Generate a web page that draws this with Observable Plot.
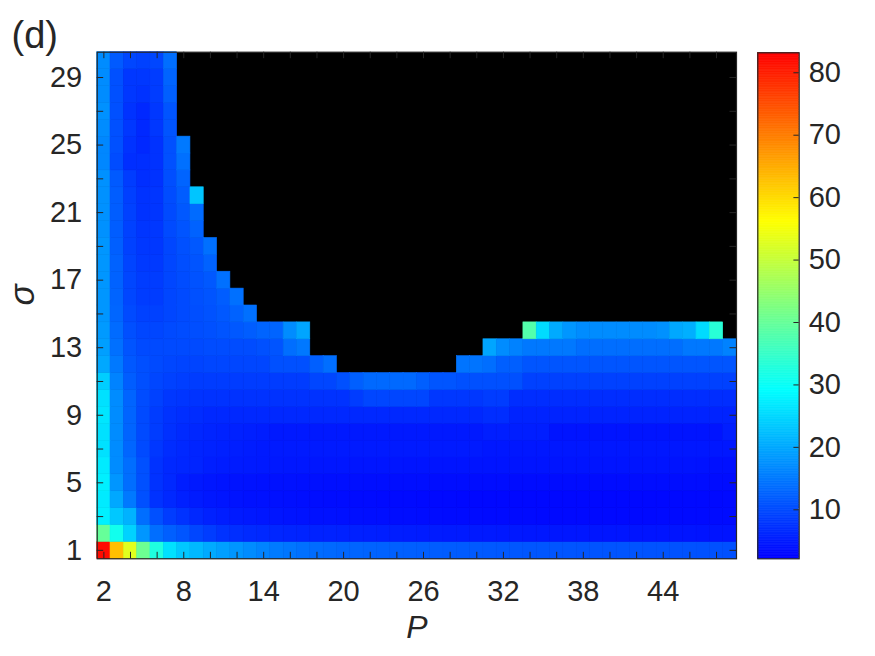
<!DOCTYPE html>
<html>
<head>
<meta charset="utf-8">
<script src="https://cdn.jsdelivr.net/npm/d3@7"></script>
<script src="https://cdn.jsdelivr.net/npm/@observablehq/plot@0.6"></script>
<style>
  html, body { margin: 0; padding: 0; background: #fff; }
  #chart { position: relative; width: 875px; height: 656px; }
  #chart svg { position: absolute; left: 0; top: 0; overflow: visible; }
</style>
</head>
<body>
<div id="chart"></div>
<script>
// ---- data ----
const P = [2,3,4,5,6,7,8,9,10,11,12,13,14,15,16,17,18,19,20,21,22,23,24,25,26,27,28,29,30,31,32,33,34,35,36,37,38,39,40,41,42,43,44,45,46,47,48,49];
const sigma = [1,2,3,4,5,6,7,8,9,10,11,12,13,14,15,16,17,18,19,20,21,22,23,24,25,26,27,28,29,30];
const xTicks = [2,4,6,8,10,12,14,16,18,20,22,24,26,28,30,32,34,36,38,40,42,44,46,48];
const xLabels = [2,8,14,20,26,32,38,44];
const yTicks = [1,3,5,7,9,11,13,15,17,19,21,23,25,27,29];
const yLabels = [1,5,9,13,17,21,25,29];
const cbTicks = [10,20,30,40,50,60,70,80];
const cMin = 2.15, cMax = 83.2;

// rows: sigma = 1 .. 30 ; entries: P = 2 .. 49 ; null / missing = no value (black)
const Z = [
 [82,63,53,40.7,32.4,26,23.3,21.7,20.2,19,18,17,16,15.2,14.6,14,13.6,13.3,13,12.8,12.6,12.5,12.3,12.2,12.1,12,11.9,11.8,11.7,11.6,11.5,11.4,11.3,11.3,11.2,11.2,11.1,11.1,11,11,11,10.9,10.9,10.8,10.8,10.7,10.7,10.6],
 [40,31,24.4,18,13.8,12.2,11.2,9.6,8.5,7.5,7,6.6,6.4,6.2,6,5.9,5.8,5.7,5.6,5.5,5.4,5.3,5.2,5.1,5,5,4.9,4.9,4.8,4.8,4.7,4.7,4.6,4.6,4.5,4.5,4.5,4.4,4.4,4.4,4.3,4.3,4.3,4.3,4.3,4.2,4.2,4.2],
 [27.6,23.3,21,13.8,10.6,8.5,7.5,6.4,5.6,5.2,4.9,4.7,4.5,4.4,4.2,4.1,4,3.9,3.8,3.7,3.6,3.6,3.5,3.5,3.4,3.4,3.3,3.3,3.3,3.2,3.2,3.2,3.2,3.1,3.1,3.1,3.1,3.1,3.1,3.1,3.1,3.1,3.2,3.2,3.2,3.2,3.3,3.3],
 [27,20,15,10.6,7.5,6.4,5.5,5,4.6,4.4,4.2,4,3.9,3.8,3.7,3.6,3.5,3.4,3.4,3.3,3.3,3.2,3.2,3.2,3.1,3.1,3.1,3,3,3,3,3,3,3,3,3,3,3,3,3,3,3,3,3.1,3.1,3.1,3.1,3.2],
 [27.6,18,13.8,10.6,7.5,6.4,5.2,4.8,4.5,4.3,4.2,4.1,4,3.9,3.9,3.8,3.8,3.7,3.7,3.7,3.6,3.6,3.6,3.6,3.6,3.5,3.5,3.5,3.5,3.5,3.5,3.4,3.4,3.4,3.4,3.4,3.4,3.4,3.4,3.4,3.5,3.5,3.5,3.5,3.5,3.5,3.4,3.4],
 [27,17,13.8,10.6,7.5,6.4,6.2,6,5.3,5.1,5,4.9,4.8,4.7,4.6,4.6,4.5,4.5,4.5,4.4,4.4,4.4,4.4,4.3,4.3,4.3,4.3,4.3,4.3,4.3,4.3,4.3,4.3,4.3,4.3,4.3,4.3,4.3,4.3,4.3,4.3,4.3,4.3,4.2,4.2,4.1,3.8,3.8],
 [26,17,13,10,8,6.8,6.4,6,5.7,5.5,5.3,5.1,4.9,4.9,4.9,4.9,4.9,4.9,4.9,4.9,4.9,4.9,4.9,4.9,4.9,4.9,4.9,4.9,4.9,4.6,4.6,4.6,4.6,4.6,4.6,4.6,4.6,4.6,4.6,4.6,4.6,4.6,4.6,4.6,4.6,4.6,4.6,4.6],
 [26,17,12.7,10,8.5,7.2,6.6,6.3,6,5.8,5.6,5.4,5.2,4.8,4.8,4.8,4.8,4.8,4.8,4.8,4.8,4.8,4.8,4.8,4.8,4.8,4.8,4.8,4.8,5.3,5.3,5.3,5.3,5.3,4.3,4.3,4.3,4.3,4.3,4.3,4.3,4.3,4.3,4.3,4.3,4.3,4.3,5.3],
 [26.5,17,12.7,10,8.5,7.5,7,6.8,6.4,6.4,6.4,6.4,6.4,6.4,6.4,6.4,6.4,6.4,6.4,6.4,6.4,6.4,6.4,6.4,6.4,6.4,6.4,6.4,6.4,6.9,6.9,5.9,5.9,5.9,5.9,5.9,5.9,5.9,5.9,5.9,5.9,5.9,5.9,5.9,5.9,5.9,5.9,5.9],
 [26,17,12.7,10.2,9,8,7.8,7.6,7.5,7.5,7.5,7.5,7.5,7.5,7.5,7.5,7.5,7.5,7.5,8.5,9.6,9.6,9.6,9.6,9.6,8,8,8,8,8.5,8.5,6.9,6.9,6.9,6.9,6.9,6.9,6.9,6.9,6.9,6.9,6.9,6.9,6.9,6.9,6.9,6.9,6.9],
 [24,16,12,10.5,9.6,9,8.7,8.5,8.5,8.5,8.5,8.5,8.5,8.5,8.5,8.5,9.6,9.6,10.6,12.2,13.3,13.3,13.3,13.3,12.2,11.2,11.2,10.6,10.6,10.6,10.6,10.6,9,9,9,9,9,9,9,9,9,9,9,9,9,9,9,9],
 [20,15,11.5,10.5,10,9.6,9.4,9.4,9.6,9.6,9.6,9.6,9.6,10.6,10.6,10.6,12.2,13.8,null,null,null,null,null,null,null,null,null,14.4,14.4,13.8,12.2,12.2,11.2,11.2,11.2,11.2,11.2,11.2,11.2,11.2,11.2,11.2,11.2,11.2,11.2,11.2,11.2,11.2],
 [19,14,11,10,10,10,10,10,10.2,10.2,10.2,10.2,10.6,11,13.8,14.9,null,null,null,null,null,null,null,null,null,null,null,null,null,19.6,17,15.9,14.9,14.9,14.9,14.9,13.8,13.8,13.8,13.8,13.8,13.8,13.8,13.8,14.9,14.9,14.9,15.9],
 [18.5,13.5,10.5,9.6,9.6,10,10.2,10.4,10.6,11,11.5,12,12.7,12.7,17,19.6,null,null,null,null,null,null,null,null,null,null,null,null,null,null,null,null,38,25.4,20.2,18,17,17,17,17,17,17,17.5,20,20.7,25.4,33.4],
 [18,13,10,9,9,9.6,10,10.4,10.8,11.5,12.5,14],
 [18,12.7,9.6,8.5,8.5,9.6,10,10.6,11,12,14],
 [18,12.5,9.6,8.5,8.5,9.6,10.2,10.8,11.5,14],
 [18,12.5,9.4,8.2,8.2,9.6,10.4,11,12.5],
 [18,12.2,9,8,8,9.6,10.6,11.5,14],
 [17.5,12,9,7.8,8,10,11,12.5],
 [17.5,12,9,7.5,7.8,10,11.5,13.5],
 [17.5,12,8.8,7.5,7.8,10.2,12,23],
 [17.5,11.7,8.5,7,7.5,10.4,12.7],
 [16.5,10.2,7,7,7.5,10.6,14],
 [16.5,10.6,7.5,6.4,7.5,10.6,15],
 [17,10.6,8,6.4,8,11],
 [17.5,10.6,7.5,6.4,8,11],
 [17,10.6,8,7.5,8.5,12.2],
 [17,10.6,8,8,8.5,12.7],
 [17,11.7,9.6,9,9.6,13.8]
];

// ---- table ----
const cells = [];
Z.forEach((row, r) => row.forEach((v, c) => {
  if (v != null) cells.push({P: P[c], s: sigma[r], v});
}));

// ---- layout ----
const W = 875, H = 656;
const L = 96.7, R = 736, T = 51.7, B = 558.3;
const cbL = 757.3, cbR = 798.7, cbT = 52.3, cbB = 558.3;
const ink = "#262626";
const font = "'Liberation Sans', Arial, Helvetica, sans-serif";
const tick = 6.5;

const span = cMax - cMin;
const colorScale = {
  type: "linear",
  domain: [cMin, cMin + span / 3, cMin + 2 * span / 3, cMax],
  range: ["#0000ff", "#00ffff", "#ffff00", "#ff0000"],
  interpolate: "rgb",
  clamp: true
};

const main = Plot.plot({
  width: W, height: H,
  marginLeft: L, marginRight: W - R, marginTop: T, marginBottom: H - B,
  style: {fontFamily: font, background: "transparent", color: ink},
  x: {domain: [P[0] - 0.5, P[P.length - 1] + 0.5]},
  y: {domain: [sigma[0] - 0.5, sigma[sigma.length - 1] + 0.5]},
  color: colorScale,
  marks: [
    Plot.frame({fill: "black"}),
    Plot.rect(cells, {x1: d => d.P - 0.5, x2: d => d.P + 0.5, y1: d => d.s - 0.5, y2: d => d.s + 0.5,
      fill: "v", stroke: "v", strokeWidth: 0.6}),
    Plot.tickX(xTicks, {x: d => d, insetTop: (B - T) - tick, stroke: ink}),
    Plot.tickX(xTicks, {x: d => d, insetBottom: (B - T) - tick, stroke: ink}),
    Plot.tickY(yTicks, {y: d => d, insetRight: (R - L) - tick, stroke: ink}),
    Plot.tickY(yTicks, {y: d => d, insetLeft: (R - L) - tick, stroke: ink}),
    Plot.axisX(xLabels, {tickSize: 0, tickPadding: 21.5, fontSize: 29, fill: ink, label: null}),
    Plot.axisY(yLabels, {tickSize: 0, tickPadding: 15, fontSize: 29, fill: ink, label: null}),
    Plot.frame({stroke: ink, strokeWidth: 1.2}),
    Plot.text(["σ"], {frameAnchor: "left", dx: -74, rotate: -90, fontSize: 35, fontStyle: "italic", fill: ink}),
    Plot.text(["P"], {frameAnchor: "bottom", dy: 79, fontSize: 32, fontStyle: "italic", fill: ink}),
    Plot.text(["(d)"], {frameAnchor: "top-left", dx: 11 - L, dy: 21 - T, textAnchor: "start", fontSize: 38, fill: ink})
  ]
});

const steps = d3.range(0, 300).map(i => cMin + span * i / 300);
const cb = Plot.plot({
  width: W, height: H,
  marginLeft: cbL, marginRight: W - cbR, marginTop: cbT, marginBottom: H - cbB,
  style: {fontFamily: font, background: "transparent", color: ink},
  x: {domain: [0, 1], axis: null},
  y: {domain: [cMin, cMax]},
  color: colorScale,
  marks: [
    Plot.rect(steps, {x1: 0, x2: 1, y1: d => d, y2: d => d + span / 300,
      fill: d => d + span / 600, stroke: d => d + span / 600, strokeWidth: 0.6}),
    Plot.tickY(cbTicks, {y: d => d, insetLeft: (cbR - cbL) - 5.3, stroke: ink}),
    Plot.axisY(cbTicks, {anchor: "right", tickSize: 0, tickPadding: 9.5, fontSize: 29, fill: ink, label: null}),
    Plot.frame({stroke: ink, strokeWidth: 1.2})
  ]
});

const host = document.getElementById("chart");
host.appendChild(main);
host.appendChild(cb);
</script>
</body>
</html>
